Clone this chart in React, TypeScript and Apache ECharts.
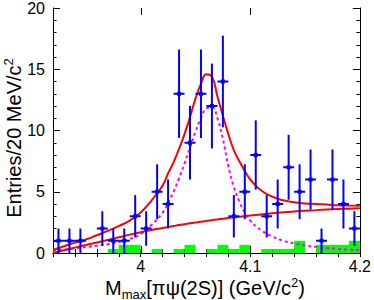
import React, { useEffect, useRef } from 'react';
import * as echarts from 'echarts';

// ---- data ----
const binCenters = [3.925, 3.935, 3.945, 3.955, 3.965, 3.975, 3.985, 3.995, 4.005, 4.015, 4.025, 4.035, 4.045, 4.055, 4.065, 4.075, 4.085, 4.095, 4.105, 4.115, 4.125, 4.135, 4.145, 4.155, 4.165, 4.175, 4.185, 4.195];
const binHalfWidth = 0.005;
const counts = [1, 1, 1, null, 2, 1, 1, 3, 2, 5, 4, 13, 9, 13, 12, 14, 3, 5, 8, 3, 4, 7, 5, 6, 1, 6, 4, 2];
const countErrors = [1, 1, 1, null, 1.41, 1, 1, 1.73, 1.41, 2.24, 2, 3.61, 3, 3.61, 3.46, 3.74, 1.73, 2.24, 2.83, 1.73, 2, 2.65, 2.24, 2.45, 1, 2.45, 2, 1.41];
const sidebandCounts = [0, 0, 0, 0, 0, 0.33, 0.67, 0.67, 0, 0.33, 0, 0.33, 0.67, 0, 0.33, 0.67, 0.33, 0.67, 0, 0.33, 0.33, 0.33, 1, 0, 0.67, 0.67, 0.67, 1];

const curveX = [3.92, 3.93, 3.94, 3.95, 3.96, 3.97, 3.98, 3.99, 4.0, 4.01, 4.02, 4.025, 4.03, 4.035, 4.04, 4.045, 4.05, 4.055, 4.06, 4.065, 4.07, 4.075, 4.08, 4.085, 4.09, 4.095, 4.1, 4.11, 4.12, 4.13, 4.14, 4.15, 4.16, 4.17, 4.18, 4.19, 4.2];
const totalFit = [0.25, 0.55, 0.85, 1.1, 1.45, 1.8, 2.2, 2.65, 3.3, 4.3, 5.5, 6.5, 7.4, 8.5, 9.7, 11.1, 12.6, 13.8, 14.6, 14.4, 12.8, 11.2, 9.7, 8.4, 7.5, 6.7, 6.0, 5.1, 4.6, 4.3, 4.15, 4.05, 4.0, 3.95, 3.9, 3.87, 3.85];
const signalFit = [0.2, 0.28, 0.38, 0.48, 0.6, 0.72, 0.9, 1.15, 1.55, 2.3, 3.3, 4.1, 5.0, 6.1, 7.3, 8.6, 9.9, 11.0, 11.8, 11.9, 11.0, 9.3, 7.1, 5.4, 4.2, 3.3, 2.65, 1.85, 1.35, 1.0, 0.78, 0.62, 0.5, 0.4, 0.33, 0.27, 0.22];
const bkgFit = [0.0, 0.22, 0.44, 0.65, 0.86, 1.07, 1.28, 1.5, 1.7, 1.88, 2.04, 2.12, 2.2, 2.28, 2.35, 2.42, 2.49, 2.56, 2.62, 2.68, 2.74, 2.8, 2.86, 2.91, 2.96, 3.01, 3.06, 3.15, 3.24, 3.32, 3.39, 3.45, 3.5, 3.55, 3.59, 3.62, 3.65];

const majorXTicks = [4.0, 4.1, 4.2];
const xTickLabels = ['4', '4.1', '4.2'];
const yTickLabels = ['0', '5', '10', '15', '20'];

const FONT = 'Liberation Sans, Arial, Helvetica, sans-serif';

export default function App() {
  const ref = useRef<HTMLDivElement>(null);
  useEffect(() => {
    const chart = echarts.init(ref.current!, null, { renderer: 'svg' });

    const pointData: number[][] = [];
    counts.forEach((c, i) => {
      if (c !== null) pointData.push([binCenters[i], c as number, countErrors[i] as number]);
    });
    const sbData: number[][] = [];
    sidebandCounts.forEach((c, i) => {
      if (c > 0) sbData.push([binCenters[i], c]);
    });
    const pair = (ys: number[]) => curveX.map((x, i) => [x, ys[i]]);

    const xLabelFmt = (v: number) => {
      const k = majorXTicks.findIndex((t) => Math.abs(t - v) < 1e-6);
      return k >= 0 ? xTickLabels[k] : '';
    };
    const yLabelFmt = (v: number) => {
      const k = Math.round(v / 5);
      return Math.abs(v - k * 5) < 1e-6 && yTickLabels[k] !== undefined ? yTickLabels[k] : '';
    };

    const axisLine = { show: true, lineStyle: { color: '#000', width: 1 } };

    const option: any = {
      animation: false,
      backgroundColor: '#fff',
      grid: { left: 53, right: 12, top: 6, bottom: 47, containLabel: false },
      xAxis: [
        {
          type: 'value', min: 3.92, max: 4.2, interval: 0.02, position: 'bottom',
          axisLine, splitLine: { show: false },
          axisTick: { show: true, inside: true, length: 4, lineStyle: { color: '#000' } },
          axisLabel: { formatter: xLabelFmt, fontSize: 16, color: '#000', fontFamily: FONT, margin: 5, showMinLabel: true, showMaxLabel: true },
        },
        {
          type: 'value', min: 3.92, max: 4.2, interval: 0.02, position: 'top',
          axisLine, splitLine: { show: false },
          axisTick: { show: true, inside: true, length: 4, lineStyle: { color: '#000' } },
          axisLabel: { show: false },
        },
      ],
      yAxis: [
        {
          type: 'value', min: 0, max: 20, interval: 5, position: 'left',
          axisLine, splitLine: { show: false },
          axisTick: { show: true, inside: true, length: 7, lineStyle: { color: '#000' } },
          minorTick: { show: true, splitNumber: 5, length: 3.5, lineStyle: { color: '#000' } },
          axisLabel: { formatter: yLabelFmt, fontSize: 16, color: '#000', fontFamily: FONT, margin: 8, showMinLabel: true, showMaxLabel: true },
        },
        {
          type: 'value', min: 0, max: 20, interval: 5, position: 'right',
          axisLine, splitLine: { show: false },
          axisTick: { show: true, inside: true, length: 7, lineStyle: { color: '#000' } },
          minorTick: { show: true, splitNumber: 5, length: 3.5, lineStyle: { color: '#000' } },
          axisLabel: { show: false },
        },
      ],
      series: [
        {
          type: 'custom', name: 'sideband', z: 1, clip: true,
          data: sbData,
          renderItem: (params: any, api: any) => {
            const x = api.value(0), y = api.value(1);
            const a = api.coord([x - binHalfWidth, y]);
            const b = api.coord([x + binHalfWidth, 0]);
            return {
              type: 'rect',
              shape: { x: a[0], y: a[1], width: b[0] - a[0], height: b[1] - a[1] },
              style: { fill: '#00ff00', stroke: null },
            };
          },
        },
        {
          type: 'line', name: 'signal', data: pair(signalFit), smooth: true, showSymbol: false, z: 3,
          lineStyle: { color: '#ff00ff', width: 2, type: [3, 3] },
        },
        {
          type: 'line', name: 'bkg', data: pair(bkgFit), smooth: true, showSymbol: false, z: 3,
          lineStyle: { color: '#ff0000', width: 2 },
        },
        {
          type: 'line', name: 'total', data: pair(totalFit), smooth: true, showSymbol: false, z: 3,
          lineStyle: { color: '#ff0000', width: 2 },
        },
        {
          type: 'custom', name: 'data', z: 4, clip: true,
          data: pointData,
          renderItem: (params: any, api: any) => {
            const x = api.value(0), y = api.value(1), e = api.value(2);
            const c = api.coord([x, y]);
            const t = api.coord([x, y + e]);
            const b = api.coord([x, Math.max(0, y - e)]);
            const l = api.coord([x - binHalfWidth, y]);
            const r = api.coord([x + binHalfWidth, y]);
            const st = { stroke: '#0000ff', lineWidth: 2 };
            return {
              type: 'group',
              children: [
                { type: 'line', shape: { x1: c[0], y1: t[1], x2: c[0], y2: b[1] }, style: st },
                { type: 'line', shape: { x1: l[0], y1: c[1], x2: r[0], y2: c[1] }, style: st },
                { type: 'rect', shape: { x: c[0] - 2, y: c[1] - 2, width: 4, height: 4 }, style: { fill: '#0000ff' } },
              ],
            };
          },
        },
        {
          type: 'custom', name: 'majorTicks', z: 5, clip: false, silent: true,
          data: majorXTicks.map((v) => [v, 0]),
          renderItem: (params: any, api: any) => {
            const p = api.coord([api.value(0), 0]);
            const cs = params.coordSys;
            const st = { stroke: '#000', lineWidth: 1 };
            const xx = Math.round(p[0]) + 0.5;
            return {
              type: 'group',
              children: [
                { type: 'line', shape: { x1: xx, y1: cs.y + cs.height, x2: xx, y2: cs.y + cs.height - 7 }, style: st },
                { type: 'line', shape: { x1: xx, y1: cs.y, x2: xx, y2: cs.y + 7 }, style: st },
              ],
            };
          },
        },
      ],
      graphic: [
        {
          type: 'text', x: 14, y: 138, rotation: Math.PI / 2,
          style: {
            text: '{a|Entries/20 MeV/c}{sup|2}',
            align: 'center', verticalAlign: 'middle',
            rich: {
              a: { fontSize: 20, fontFamily: FONT, fill: '#000' },
              sup: { fontSize: 13, fontFamily: FONT, fill: '#000', padding: [0, 0, 12, 0] },
            },
          },
        },
        {
          type: 'text', x: 205, y: 288,
          style: {
            text: '{a|M}{sub|max}{a|[πψ(2S)] (GeV/c}{sup|2}{a|)}',
            align: 'center', verticalAlign: 'middle',
            rich: {
              a: { fontSize: 20, fontFamily: FONT, fill: '#000' },
              sub: { fontSize: 13, fontFamily: FONT, fill: '#000', padding: [12, 0, 0, 0] },
              sup: { fontSize: 13, fontFamily: FONT, fill: '#000', padding: [0, 0, 12, 0] },
            },
          },
        },
      ],
    };
    chart.setOption(option);
    return () => chart.dispose();
  }, []);
  return <div ref={ref} style={{ position: 'absolute', left: 0, top: 0, width: 374, height: 300 }} />;
}
